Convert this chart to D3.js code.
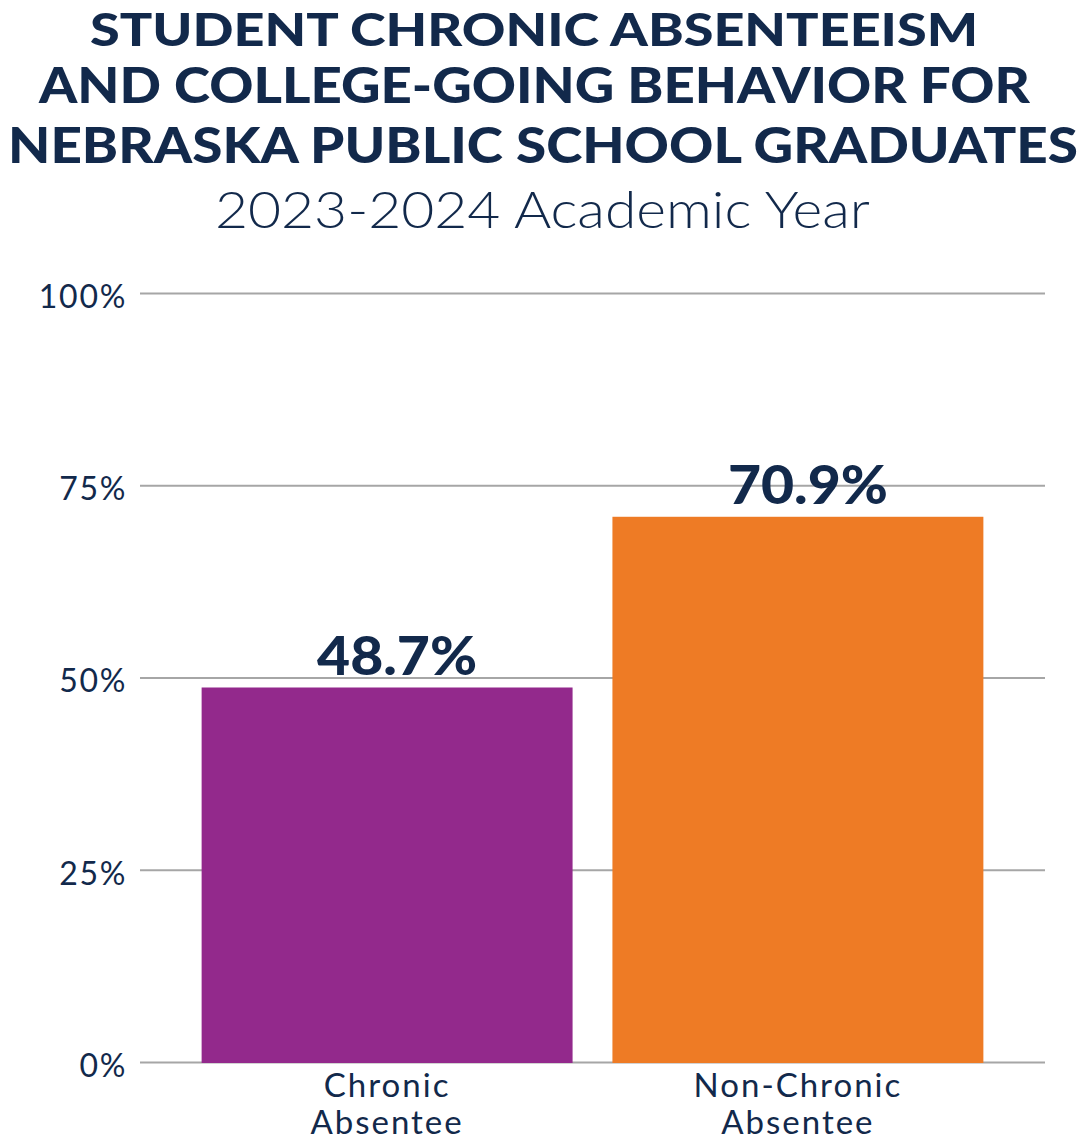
<!DOCTYPE html>
<meta charset="utf-8">
<head>
  <title>Student chronic absenteeism and college-going</title>
</head>

<style>
body { margin: 0; background: #fff; }
text {
  font-family: Lato, "Open Sans", sans-serif;
  fill: #12294b;
}
.title { font-weight: 900; font-size: 50px; }
.subtitle { font-weight: 300; font-size: 51px; }
.tick text { font-size: 32px; font-weight: 400; letter-spacing: 1.7px; }
.tick line { stroke: #a6a6a6; stroke-width: 2px; }
.value { font-weight: 900; font-size: 54px; }
.cat { font-size: 33px; font-weight: 400; letter-spacing: 2px; }
</style>

<body>
  <svg width="1087" height="1141"></svg>

  <script src="https://cdnjs.cloudflare.com/ajax/libs/d3/7.8.5/d3.min.js"></script>
  <script>

var titleLines = [
  "STUDENT CHRONIC ABSENTEEISM",
  "AND COLLEGE-GOING BEHAVIOR FOR",
  "NEBRASKA PUBLIC SCHOOL GRADUATES"
];
var subtitle = "2023-2024 Academic Year";

var categories = ["Chronic Absentee", "Non-Chronic Absentee"];
var categoryLines = [["Chronic", "Absentee"], ["Non-Chronic", "Absentee"]];
var values = [48.7, 70.9];
var colors = ["#93298c", "#ee7b25"];
var yTicks = [0, 25, 50, 75, 100];

var svg = d3.select('svg');

// stretch a text to a width
function fit(sel, w) {
  sel.attr('textLength', w).attr('lengthAdjust', 'spacingAndGlyphs');
}

// title block: [x start, baseline, width, font size]
// first line a touch smaller so it stays inside the top edge
var titlePos = [[90, 45.5, 888, 46], [39, 102.5, 991, 50], [8, 163, 1070, 50]];
titleLines.forEach(function(t, i) {
  svg.append('text')
    .attr('class', 'title')
    .attr('x', titlePos[i][0])
    .attr('y', titlePos[i][1])
    .style('font-size', titlePos[i][3] + 'px')
    .text(t)
    .call(fit, titlePos[i][2]);
});

svg.append('text')
  .attr('class', 'subtitle')
  .attr('x', 215)
  .attr('y', 228)
  .text(subtitle)
  .call(fit, 655);

var x = d3.scaleBand()
  .domain(categories)
  .range([140, 1045])
  .paddingInner(0.097)
  .paddingOuter(0.15);

var y = d3.scaleLinear()
  .domain([0, 100])
  .range([1062, 293]);

// gridlines + tick labels
var yAxis = svg.append('g')
  .attr('transform', 'translate(140,0)')
  .call(d3.axisLeft(y)
    .tickValues(yTicks)
    .tickFormat(function(d) { return d + '%'; })
    .tickSize(-905)
    .tickPadding(13));
yAxis.select('.domain').remove();
yAxis.selectAll('.tick text')
  .attr('dy', '0.45em')
  .attr('fill', null)
  .style('font-family', null);

// bars
svg.append('g')
  .selectAll('rect')
  .data(values)
  .enter()
  .append('rect')
  .attr('x', function(d, i) { return x(categories[i]); })
  .attr('y', function(d) { return y(d); })
  .attr('width', x.bandwidth())
  .attr('height', function(d) { return y(0) - y(d) + 1; })
  .attr('fill', function(d, i) { return colors[i]; });

// value labels
svg.append('g')
  .selectAll('text')
  .data(values)
  .enter()
  .append('text')
  .attr('class', 'value')
  .attr('text-anchor', 'middle')
  .attr('x', function(d, i) { return x(categories[i]) + x.bandwidth() / 2 + 10; })
  .attr('y', function(d) { return y(d) - 12.5; })
  .text(function(d) { return d3.format('.1f')(d) + '%'; })
  .call(fit, 160);

// category labels, two lines each
var cats = svg.append('g')
  .selectAll('text')
  .data(categories)
  .enter()
  .append('text')
  .attr('class', 'cat')
  .attr('text-anchor', 'middle')
  .attr('transform', function(d) {
    return 'translate(' + (x(d) + x.bandwidth() / 2) + ',' + (y(0) + 35) + ')';
  });

cats.selectAll('tspan')
  .data(function(d, i) { return categoryLines[i]; })
  .enter()
  .append('tspan')
  .attr('x', 0)
  .attr('dy', function(d, j) { return j === 0 ? 0 : 37; })
  .text(function(d) { return d; });

  </script>
</body>
</html>
